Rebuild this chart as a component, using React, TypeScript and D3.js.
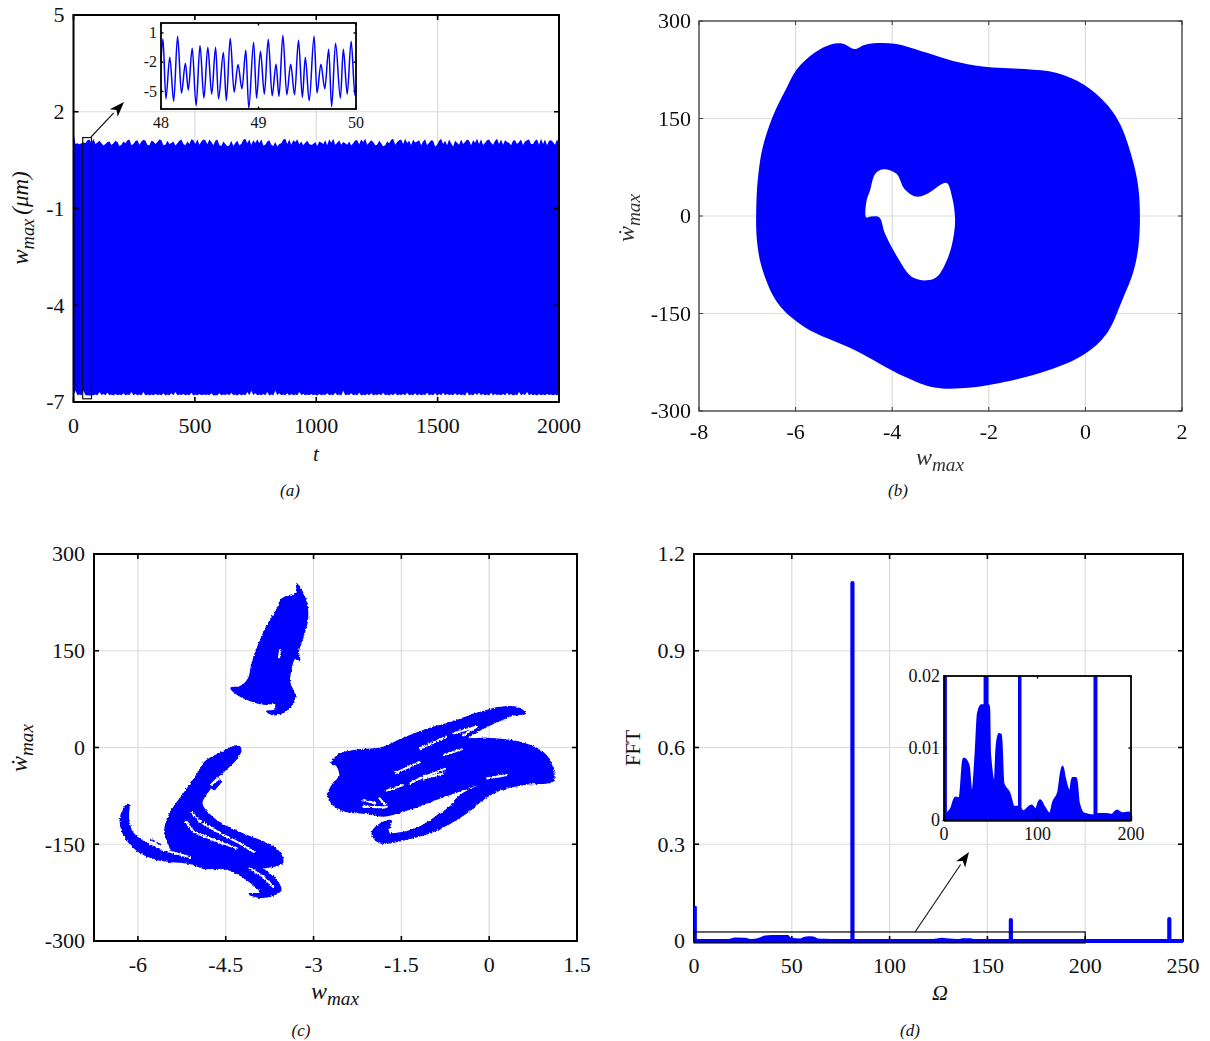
import React from "react";
import * as d3 from "d3";

// ---------- data ----------
const timeTicks = [0, 500, 1000, 1500, 2000];
const responseTicks = [5, 2, -1, -4, -7];
const topEnvelopeA = [1.34,1.02,1.02,1.03,1.14,1.16,1.05,1.02,1.0,1.08,1.02,1.06,0.98,1.02,1.14,1.0,1.12,1.08,1.1,0.96,1.08,1.06,1.12,0.98,1.0,1.08,1.02,1.14,0.96,1.0,1.12,1.15,1.08,1.12,1.14,0.96,1.14,0.94,1.0,0.96,0.94,1.1,1.0,1.16,1.14,1.12,1.15,1.15,0.98,1.12,0.94,0.92,1.02,1.16,1.14,1.12,1.15,1.08,1.04,1.0,1.0,0.94,1.05,1.12,1.15,1.16,1.04,0.98,1.02,1.08,1.02,1.12,1.14,1.16,1.05,1.06,0.98,1.02,0.96,1.02,1.16,1.06,1.14,1.16,1.1,1.14,1.08,0.96,1.15,1.04,1.1,0.98,1.16,1.1,1.14,0.92,1.04,1.14,1.06,1.1,1.12,1.16,1.15,1.04,1.14,0.98,1.16,1.14,1.12,1.04,1.1,1.0,1.14,1.08,1.14,1.0,1.15,1.16,1.14,1.1,1.06,1.14];
const topEnvelopeB = [1.0,0.99,1.05,1.12,1.02,1.0,1.1,0.95,1.06,0.97,1.1,0.94,1.08,1.12,0.96,1.09,0.98,1.13,0.97,1.1,1.0,1.14,0.96,1.1,1.03,0.95,1.1,1.0,1.08,1.15,1.0,0.98,1.14,0.99,1.06,1.1,0.97,1.08,0.93,1.1,1.03,0.96,1.13,1.02,0.97,1.03,1.02,0.95,1.08,0.98,1.06,1.0,1.14,1.0,0.98,1.06,0.99,0.96,1.1,0.97,1.06,1.08,1.0,0.96,1.04,0.98,1.12,1.06,0.98,0.95,1.12,0.99,1.06,0.98,1.12,0.96,1.1,0.93,1.08,1.13,0.98,1.12,1.0,1.03,0.97,1.05,1.12,1.08,0.96,1.12,0.92,1.1,1.0,0.96,1.02,1.1,0.98,1.0,1.14,0.96,1.04,1.0,0.97,1.12,1.04,1.1,1.0,0.98,1.06,0.96,1.12,1.06,0.97,1.12,1.0,1.1,0.98,1.0,0.96,1.12,0.98,1.02];
const bottomEnvelopeA = [-6.65,-6.77,-6.65,-6.79,-6.79,-6.77,-6.69,-6.75,-6.71,-6.77,-6.75,-6.77,-6.73,-6.77,-6.69,-6.75,-6.77,-6.69,-6.77,-6.77,-6.75,-6.77,-6.73,-6.77,-6.73,-6.69,-6.77,-6.75,-6.77,-6.71,-6.77,-6.75,-6.77,-6.77,-6.73,-6.79,-6.73,-6.77,-6.75,-6.71,-6.77,-6.75,-6.77,-6.69,-6.65,-6.73,-6.77,-6.75,-6.69,-6.77,-6.65,-6.73,-6.77,-6.73,-6.75,-6.77,-6.69,-6.75,-6.77,-6.75,-6.77,-6.75,-6.77,-6.73,-6.77,-6.71,-6.77,-6.65,-6.77,-6.73,-6.77,-6.71,-6.77,-6.75,-6.73,-6.77,-6.75,-6.71,-6.77,-6.75,-6.73,-6.77,-6.75,-6.71,-6.77,-6.73,-6.75,-6.77,-6.71,-6.77,-6.73,-6.75,-6.71,-6.75,-6.77,-6.73,-6.75,-6.77,-6.69,-6.77,-6.73,-6.71,-6.75,-6.77,-6.71,-6.75,-6.77,-6.75,-6.71,-6.75,-6.77,-6.69,-6.75,-6.69,-6.75,-6.77,-6.75,-6.77,-6.75,-6.77,-6.77,-6.75];
const bottomEnvelopeB = [-6.78,-6.79,-6.79,-6.79,-6.8,-6.79,-6.79,-6.78,-6.79,-6.79,-6.8,-6.79,-6.79,-6.79,-6.78,-6.79,-6.79,-6.79,-6.8,-6.79,-6.79,-6.78,-6.79,-6.8,-6.79,-6.79,-6.79,-6.78,-6.79,-6.79,-6.8,-6.79,-6.79,-6.78,-6.79,-6.8,-6.79,-6.79,-6.78,-6.79,-6.79,-6.8,-6.79,-6.79,-6.79,-6.78,-6.79,-6.79,-6.79,-6.8,-6.79,-6.78,-6.79,-6.79,-6.8,-6.79,-6.79,-6.78,-6.79,-6.79,-6.79,-6.8,-6.79,-6.78,-6.79,-6.79,-6.79,-6.8,-6.79,-6.78,-6.79,-6.79,-6.8,-6.79,-6.79,-6.79,-6.78,-6.79,-6.79,-6.8,-6.79,-6.79,-6.78,-6.79,-6.79,-6.79,-6.8,-6.79,-6.78,-6.79,-6.79,-6.8,-6.79,-6.79,-6.78,-6.79,-6.79,-6.79,-6.8,-6.79,-6.79,-6.78,-6.79,-6.79,-6.8,-6.79,-6.78,-6.79,-6.79,-6.79,-6.8,-6.79,-6.79,-6.78,-6.79,-6.79,-6.8,-6.79,-6.79,-6.78,-6.79,-6.79];
const zoomTimes = [48,48.02,48.05,48.09,48.13,48.17,48.21,48.25,48.28,48.32,48.36,48.40,48.44,48.48,48.52,48.56,48.59,48.64,48.67,48.71,48.75,48.79,48.83,48.87,48.90,48.95,48.98,49.02,49.06,49.10,49.14,49.18,49.21,49.25,49.29,49.33,49.37,49.41,49.45,49.48,49.52,49.57,49.60,49.64,49.68,49.72,49.75,49.79,49.84,49.87,49.91,49.95,49.99,50];
const zoomResponse = [-1.93,0.39,-5.75,-1.49,-6.02,0.66,-5.17,-2.1,-4.86,-0.57,-6.46,-0.3,-5.68,-0.47,-5.27,-0.47,-5.75,-1.01,-5.95,0.45,-5.07,-2.24,-4.73,-0.77,-6.7,0.05,-5.68,-0.87,-5.27,0.35,-5.44,-2.2,-5.51,0.76,-5.34,-2.2,-5.34,0.25,-5.61,-1.49,-5.95,0.66,-5.17,-2.2,-4.73,-0.67,-6.57,-0.06,-5.68,-0.67,-5.27,0.15,-5.44,-4.4];
const zoomTimeTicks = [48, 49, 50];
const zoomResponseTicks = [1, -2, -5];

const phaseXTicks = [-8, -6, -4, -2, 0, 2];
const phaseYTicks = [300, 150, 0, -150, -300];
const phaseOuter: [number, number][] = [[-6.81,24],[-6.77,65],[-6.68,106],[-6.48,152],[-6.2,195],[-5.97,226],[-5.61,251],[-5.27,264],[-5.02,265],[-4.78,257],[-4.54,264],[-3.95,265],[-3.28,251],[-2.72,238],[-2.13,230],[-1.26,226],[-0.59,220],[-0.03,202],[0.44,172],[0.72,141],[1.0,80],[1.11,34],[1.11,-38],[1.0,-84],[0.76,-130],[0.44,-181],[-0.03,-213],[-0.75,-237],[-1.46,-252],[-2.37,-264],[-3.12,-264],[-3.75,-247],[-4.78,-206],[-5.81,-171],[-6.36,-135],[-6.68,-84],[-6.8,-38]];
const phaseHole: [number, number][] = [[-4.54,-2],[-4.53,24],[-4.46,39],[-4.35,65],[-4.19,72],[-3.91,65],[-3.75,42],[-3.51,30],[-3.28,34],[-2.88,51],[-2.76,29],[-2.7,-2],[-2.72,-27],[-2.84,-63],[-3.08,-94],[-3.28,-99],[-3.59,-94],[-3.91,-61],[-4.15,-27],[-4.27,-2],[-4.46,-1]];

const poincareXTicks = [-6, -4.5, -3, -1.5, 0, 1.5];
const poincareYTicks = [300, 150, 0, -150, -300];
const upperCluster: [number, number][] = [[-3.29,253.5],[-3.18,239],[-3.11,218.4],[-3.11,195],[-3.18,172],[-3.26,149],[-3.24,136],[-3.32,138],[-3.4,115],[-3.41,102],[-3.32,79],[-3.37,66],[-3.52,54],[-3.69,51],[-3.8,56],[-3.66,58],[-3.65,68.5],[-3.8,67],[-4.09,73],[-4.28,81],[-4.41,92],[-4.26,94],[-4.11,107],[-4.05,130.5],[-3.94,159],[-3.8,187],[-3.63,213],[-3.53,231],[-3.37,235],[-3.28,240]];
const leftCluster: [number, number][] = [[-4.28,2.3],[-4.24,-3.9],[-4.31,-16.8],[-4.54,-37.5],[-4.76,-55.6],[-4.77,-63.3],[-4.91,-86.6],[-4.71,-109.8],[-4.43,-125.3],[-4.09,-138.2],[-3.74,-151.2],[-3.57,-164.1],[-3.53,-178.6],[-3.72,-184.8],[-3.86,-187.3],[-3.66,-202.8],[-3.56,-220.9],[-3.69,-228.7],[-3.91,-232.3],[-4.1,-227.1],[-3.91,-225],[-4.09,-208],[-4.48,-188.4],[-4.88,-187.3],[-5.11,-179.6],[-5.68,-173.4],[-6.02,-158.9],[-6.25,-133.1],[-6.3,-112.4],[-6.22,-91.7],[-6.16,-88.1],[-6.16,-112.4],[-6.08,-133.1],[-5.85,-148.6],[-5.45,-160.5],[-5.52,-138.2],[-5.54,-127.9],[-5.45,-102.1],[-5.17,-65.9],[-4.94,-34.9],[-4.85,-22],[-4.54,-6.5],[-4.37,1.3]];
const leftSliver: [number, number][] = [[-4.76,-61.8],[-4.6,-50.4],[-4.57,-52.4],[-4.69,-65.3]];
const leftStreak: [number, number][] = [[-5.79,-142.4],[-5.59,-151.2]];
const rightCluster: [number, number][] = [[-2.69,-25.6],[-2.58,-11.7],[-2.32,-5],[-1.81,0.2],[-1.47,14.2],[-1.01,29.7],[-0.61,40],[-0.21,52.9],[0.18,62.2],[0.47,62.2],[0.62,52.9],[0.41,50.3],[0.07,37.4],[-0.21,24.5],[-0.36,14.2],[-0.04,14.2],[0.47,9],[0.81,-1.3],[1.01,-16.8],[1.11,-45.3],[1.07,-53],[0.64,-56.6],[0.18,-65.9],[-0.04,-76.3],[-0.44,-104.7],[-0.9,-128],[-1.35,-140.9],[-1.87,-147.6],[-2.0,-133.1],[-1.89,-120.2],[-1.68,-113.5],[-1.72,-132.1],[-1.41,-130.5],[-1.07,-117.6],[-0.73,-94.4],[-0.44,-71.1],[-0.015,-53],[-0.38,-63.4],[-0.78,-76.3],[-1.24,-91.8],[-1.81,-106.2],[-2.09,-102.1],[-2.43,-99.5],[-2.66,-89.2],[-2.75,-73.7],[-2.66,-55.6],[-2.55,-45.3],[-2.61,-27.2]];
const clusterGaps: [number, number][][] = [
  [[-3.57,151],[-3.59,140]],
  [[-5.08,-101],[-4.94,-115],[-4.54,-135.6],[-4.26,-148.6],[-4.0,-163]],
  [[-5.18,-115],[-5.05,-130.5],[-4.71,-143.4],[-4.31,-156.3]],
  [[-4.09,-187.3],[-3.86,-200.2],[-3.69,-215.8]],
  [[-5.6,-158],[-5.11,-170]],
  [[-1.75,-67],[-1.47,-58.2]],
  [[-1.61,-40.1],[-1.18,-22]],
  [[-1.18,-47.9],[-0.73,-32.3]],
  [[-0.78,-11.7],[-0.47,-2.9]],
  [[-2.15,-91.8],[-1.78,-92.8]],
  [[-0.84,-101],[-0.61,-84]],
  [[-0.44,19.3],[-0.21,32.3]],
  [[-2.15,-81.5],[-1.95,-86.6]],
  [[-1.87,-78.9],[-1.75,-91.8]],
  [[-1.12,-47.9],[-0.78,-40.1]],
  [[-1.35,-55.6],[-1.07,-42.7]],
  [[-0.61,21.9],[-0.21,32.3]],
  [[-0.04,-47.9],[0.3,-42.7]],
  [[-1.18,-1.3],[-0.73,16.7]],
];

const freqTicks = [0, 50, 100, 150, 200, 250];
const ampTicks = [0, 0.3, 0.6, 0.9, 1.2];
const spikeFreqs = [0.7, 81, 162, 243];
const spikeAmps = [0.105, 1.11, 0.065, 0.068];
const spectrumFreqs = [0,2.5,7.9,12.2,16.8,21.1,26.1,29.3,31.1,34,36.5,40,48,49,54.4,56.2,58.7,60.8,63.3,69.8,74.8,79.4,84.8,93.7,98,102.7,107,113.4,117,122.4,126.7,128.8,134.9,137.4,141.3,143.8,149.2,160.7,165.3,174,179.6,185,190.4,197.5,200];
const spectrumAmps = [0,0.0007,0.0016,0.0031,0.003,0.0085,0.0076,0.0037,0.0042,0.0092,0.0148,0.0159,0.0159,0.0092,0.0051,0.0097,0.0119,0.0118,0.0051,0.0037,0.0018,0.0018,0.0012,0.002,0.0014,0.0027,0.0018,0.0008,0.0025,0.0039,0.0074,0.006,0.0039,0.0058,0.0058,0.0025,0.0009,0.0006,0.0008,0.0008,0.0007,0.0013,0.0009,0.001,0.0005];
const zoomFreqTicks = [0, 100, 200];
const zoomAmpTicks = [0, 0.01, 0.02];
const zoomSpikeFreqs = [1.5, 45, 81, 162];
const zoomSpikeWidths = [3, 5, 3.5, 4];

// ---------- drawing ----------
const SERIF = "'Liberation Serif', serif";
const BLUE = "#0000ff";
type S = d3.ScaleLinear<number, number>;

function Frame(p: {
  x: S; y: S; xt: number[]; yt: number[]; fs: number; sw: number; tick: number;
  color?: string; xdy: number; ydx: number; children?: React.ReactNode;
}) {
  const [x0, x1] = p.x.range();
  const [y1, y0] = p.y.range();
  const c = p.color ?? "#000";
  return (
    <g>
      {p.children}
      <rect x={x0} y={y0} width={x1 - x0} height={y1 - y0} fill="none" stroke={c} strokeWidth={p.sw} />
      {p.xt.map((t) => (
        <g key={"x" + t}>
          <line x1={p.x(t)} x2={p.x(t)} y1={y1} y2={y1 - p.tick} stroke={c} strokeWidth={p.sw * 0.8} />
          <line x1={p.x(t)} x2={p.x(t)} y1={y0} y2={y0 + p.tick} stroke={c} strokeWidth={p.sw * 0.8} />
          <text x={p.x(t)} y={y1 + p.xdy} textAnchor="middle" fontSize={p.fs} fill="#111" fontFamily={SERIF}>{String(t)}</text>
        </g>
      ))}
      {p.yt.map((t) => (
        <g key={"y" + t}>
          <line x1={x0} x2={x0 + p.tick} y1={p.y(t)} y2={p.y(t)} stroke={c} strokeWidth={p.sw * 0.8} />
          <line x1={x1} x2={x1 - p.tick} y1={p.y(t)} y2={p.y(t)} stroke={c} strokeWidth={p.sw * 0.8} />
          <text x={x0 - p.ydx} y={p.y(t)} dy="0.33em" textAnchor="end" fontSize={p.fs} fill="#111" fontFamily={SERIF}>{String(t)}</text>
        </g>
      ))}
    </g>
  );
}

function Grid(p: { x: S; y: S; xt: number[]; yt: number[] }) {
  const [x0, x1] = p.x.range();
  const [y1, y0] = p.y.range();
  return (
    <g stroke="#dcdcdc" strokeWidth={1.2}>
      {p.xt.map((t) => <line key={"gx" + t} x1={p.x(t)} x2={p.x(t)} y1={y0} y2={y1} />)}
      {p.yt.map((t) => <line key={"gy" + t} x1={x0} x2={x1} y1={p.y(t)} y2={p.y(t)} />)}
    </g>
  );
}

function MathLabel(p: { x: number; y: number; base: string; sub?: string; fs: number; rotate?: boolean; tail?: string; fill?: string }) {
  const t = p.rotate ? `rotate(-90 ${p.x} ${p.y})` : undefined;
  return (
    <text x={p.x} y={p.y} transform={t} textAnchor="middle" fontFamily={SERIF} fontStyle="italic" fontSize={p.fs} fill={p.fill ?? "#111"}>
      {p.base}
      {p.sub && <tspan dy={p.fs * 0.24} fontSize={p.fs * 0.8}>{p.sub}</tspan>}
      {p.tail && <tspan dy={-p.fs * 0.24} dx={4}>{p.tail}</tspan>}
    </text>
  );
}

function Caption(p: { x: number; y: number; t: string }) {
  return <text x={p.x} y={p.y} textAnchor="middle" fontFamily={SERIF} fontStyle="italic" fontSize={17} fill="#111">{p.t}</text>;
}

function Arrow(p: { x1: number; y1: number; x2: number; y2: number }) {
  const a = Math.atan2(p.y2 - p.y1, p.x2 - p.x1);
  const L = 15, W = 5.5, bx = p.x2 - L * Math.cos(a), by = p.y2 - L * Math.sin(a);
  const nx = -Math.sin(a), ny = Math.cos(a);
  const nb = [p.x2 - (L - 4) * Math.cos(a), p.y2 - (L - 4) * Math.sin(a)];
  return (
    <g>
      <line x1={p.x1} y1={p.y1} x2={bx} y2={by} stroke="#111" strokeWidth={1.1} />
      <polygon fill="#000" points={`${p.x2},${p.y2} ${bx + nx * W},${by + ny * W} ${nb[0]},${nb[1]} ${bx - nx * W},${by - ny * W}`} />
    </g>
  );
}

export default function App() {
  // panel a: the two read-off envelopes alternate along the time axis
  const ax = d3.scaleLinear().domain([0, 2000]).range([73.5, 559]);
  const ay = d3.scaleLinear().domain([-7, 5]).range([402, 15]);
  const tops = topEnvelopeA.flatMap((v, i) => [v, topEnvelopeB[i]]);
  const bottoms = bottomEnvelopeA.flatMap((v, i) => [bottomEnvelopeB[i], v]);
  const bandX = tops.map((_, i) => (i * 2000) / (tops.length - 1));
  const band = d3.area<number>().x((d) => ax(d)).y0((_, i) => ay(bottoms[i])).y1((_, i) => ay(tops[i]));
  const iax = d3.scaleLinear().domain([48, 50]).range([161, 356]);
  const iay = d3.scaleLinear().domain([-6.8, 2.02]).range([109, 23]);
  const zoomLine = d3.line<number>().x((d) => iax(d)).y((_, i) => iay(zoomResponse[i])).curve(d3.curveMonotoneX);

  // panel b
  const bx = d3.scaleLinear().domain([-8, 2]).range([699, 1182]);
  const by = d3.scaleLinear().domain([-300, 300]).range([411, 21]);
  const closed = (sx: S, sy: S) => d3.line<[number, number]>().x((d) => sx(d[0])).y((d) => sy(d[1]));
  const bl = closed(bx, by).curve(d3.curveCatmullRomClosed.alpha(0.5));

  // panel c
  const cx = d3.scaleLinear().domain([-6.75, 1.5]).range([94, 577]);
  const cy = d3.scaleLinear().domain([-300, 300]).range([941, 554]);
  const cl = closed(cx, cy);
  const smooth = closed(cx, cy).curve(d3.curveCatmullRomClosed.alpha(0.5));

  // panel d
  const dx = d3.scaleLinear().domain([0, 250]).range([694, 1183]);
  const dy = d3.scaleLinear().domain([0, 1.2]).range([941, 554]);
  const dLine = d3.line<number>().x((d) => dx(d)).y((_, i) => dy(spectrumAmps[i])).curve(d3.curveMonotoneX);
  const dArea = d3.area<number>().x((d) => dx(d)).y0(dy(0)).y1((_, i) => dy(spectrumAmps[i])).curve(d3.curveMonotoneX);
  const ix = d3.scaleLinear().domain([0, 200]).range([944, 1131]);
  const iy = d3.scaleLinear().domain([0, 0.02]).range([820, 676]);
  const iArea = d3.area<number>().x((d) => ix(d)).y0(iy(0)).y1((_, i) => iy(spectrumAmps[i])).curve(d3.curveMonotoneX);

  return (
    <svg width={1210} height={1041} viewBox="0 0 1210 1041" style={{ position: "absolute", left: 0, top: 0, background: "#fff" }}>
      <defs>
        <filter id="soft" x="-5%" y="-5%" width="110%" height="110%"><feGaussianBlur stdDeviation="0.55" /></filter>
        <filter id="fuzz" x="-5%" y="-5%" width="110%" height="110%">
          <feTurbulence type="fractalNoise" baseFrequency="0.55" numOctaves="2" seed="3" result="n" />
          <feDisplacementMap in="SourceGraphic" in2="n" scale="3.2" xChannelSelector="R" yChannelSelector="G" />
        </filter>
        <clipPath id="clipI"><rect x={942} y={676} width={191} height={147} /></clipPath>
      </defs>

      {/* (a) */}
      <Frame x={ax} y={ay} xt={timeTicks} yt={responseTicks} fs={22} sw={2} tick={5} xdy={31} ydx={9}>
        <Grid x={ax} y={ay} xt={timeTicks} yt={responseTicks} />
        <path d={band(bandX) ?? ""} fill={BLUE} />
      </Frame>
      <rect x={ax(38)} y={ay(1.2)} width={ax(74) - ax(38)} height={ay(-6.9) - ay(1.2)} fill="none" stroke="#111" strokeWidth={1.2} />
      <Arrow x1={91} y1={137} x2={124} y2={102} />
      <rect x={161} y={23} width={195} height={86} fill="#fff" />
      <path d={zoomLine(zoomTimes) ?? ""} fill="none" stroke={BLUE} strokeWidth={1.5} />
      <Frame x={iax} y={iay} xt={zoomTimeTicks} yt={zoomResponseTicks} fs={16} sw={1.8} tick={2.5} xdy={19} ydx={4} />
      <MathLabel x={28} y={218} base="w" sub="max" tail="(μm)" fs={23} rotate />
      <MathLabel x={316} y={461} base="t" fs={21} />
      <Caption x={290} y={496} t="(a)" />

      {/* (b) */}
      <g filter="url(#soft)">
        <Frame x={bx} y={by} xt={phaseXTicks} yt={phaseYTicks} fs={22} sw={1.2} tick={4} color="#333" xdy={28} ydx={8}>
          <Grid x={bx} y={by} xt={phaseXTicks} yt={phaseYTicks} />
          <path d={(bl(phaseOuter) ?? "") + (bl(phaseHole) ?? "")} fill={BLUE} fillRule="evenodd" />
        </Frame>
        <MathLabel x={940} y={465} base="w" sub="max" fs={24} fill="#333" />
        <MathLabel x={634} y={218} base="ẇ" sub="max" fs={24} rotate fill="#333" />
      </g>
      <Caption x={898} y={496} t="(b)" />

      {/* (c) */}
      <Frame x={cx} y={cy} xt={poincareXTicks} yt={poincareYTicks} fs={22} sw={2} tick={5} xdy={31} ydx={9}>
        <Grid x={cx} y={cy} xt={poincareXTicks} yt={poincareYTicks} />
        <g filter="url(#fuzz)">
          <g fill={BLUE} stroke={BLUE} strokeWidth={1.4} strokeLinejoin="round">
            <path d={smooth(upperCluster) ?? ""} />
            <path d={smooth(leftCluster) ?? ""} />
            <path d={cl(leftSliver) + "Z"} />
            <path d={smooth(rightCluster) ?? ""} />
          </g>
          <path d={cl(leftStreak) ?? ""} stroke={BLUE} strokeWidth={1.5} strokeDasharray="5 2" fill="none" />
          <g fill="none" stroke="#fff" strokeWidth={2.2} strokeDasharray="4 1.5 2 2" strokeLinecap="round">
            {clusterGaps.map((g, i) => <path key={i} d={cl(g) ?? ""} />)}
          </g>
        </g>
      </Frame>
      <MathLabel x={335} y={999} base="w" sub="max" fs={24} />
      <MathLabel x={27} y={748} base="ẇ" sub="max" fs={24} rotate />
      <Caption x={301} y={1036} t="(c)" />

      {/* (d) */}
      <Frame x={dx} y={dy} xt={freqTicks} yt={ampTicks} fs={22} sw={2} tick={5} xdy={32} ydx={9}>
        <Grid x={dx} y={dy} xt={freqTicks} yt={ampTicks} />
      </Frame>
      <path d={dArea(spectrumFreqs) ?? ""} fill={BLUE} />
      <path d={dLine(spectrumFreqs) ?? ""} fill="none" stroke={BLUE} strokeWidth={1.6} />
      <line x1={dx(0)} x2={dx(250)} y1={dy(0)} y2={dy(0)} stroke={BLUE} strokeWidth={4} />
      {spikeFreqs.map((f, i) => (
        <line key={f} x1={dx(f)} x2={dx(f)} y1={dy(0)} y2={dy(spikeAmps[i])} stroke={BLUE} strokeWidth={i === 0 ? 3 : 4.2} strokeLinecap="round" />
      ))}
      <rect x={dx(0)} y={dy(0.028)} width={dx(200) - dx(0)} height={dy(-0.006) - dy(0.028)} fill="none" stroke="#000" strokeWidth={1.2} />
      <Arrow x1={915} y1={932} x2={969} y2={852} />
      <rect x={944} y={676} width={187} height={144} fill="#fff" />
      <g clipPath="url(#clipI)">
        <path d={iArea(spectrumFreqs) ?? ""} fill={BLUE} stroke={BLUE} strokeWidth={2.4} />
        <line x1={ix(0)} x2={ix(200)} y1={iy(0)} y2={iy(0)} stroke={BLUE} strokeWidth={3.4} />
        {zoomSpikeFreqs.map((f, i) => (
          <line key={f} x1={ix(f)} x2={ix(f)} y1={iy(0)} y2={iy(0.02)} stroke={BLUE} strokeWidth={zoomSpikeWidths[i]} />
        ))}
      </g>
      <Frame x={ix} y={iy} xt={zoomFreqTicks} yt={zoomAmpTicks} fs={18} sw={1.8} tick={2.5} xdy={20} ydx={4} />
      <text x={640} y={748} transform="rotate(-90 640 748)" textAnchor="middle" fontFamily={SERIF} fontSize={21} fill="#111">FFT</text>
      <MathLabel x={940} y={1000} base="Ω" fs={22} />
      <Caption x={910} y={1036} t="(d)" />
    </svg>
  );
}
